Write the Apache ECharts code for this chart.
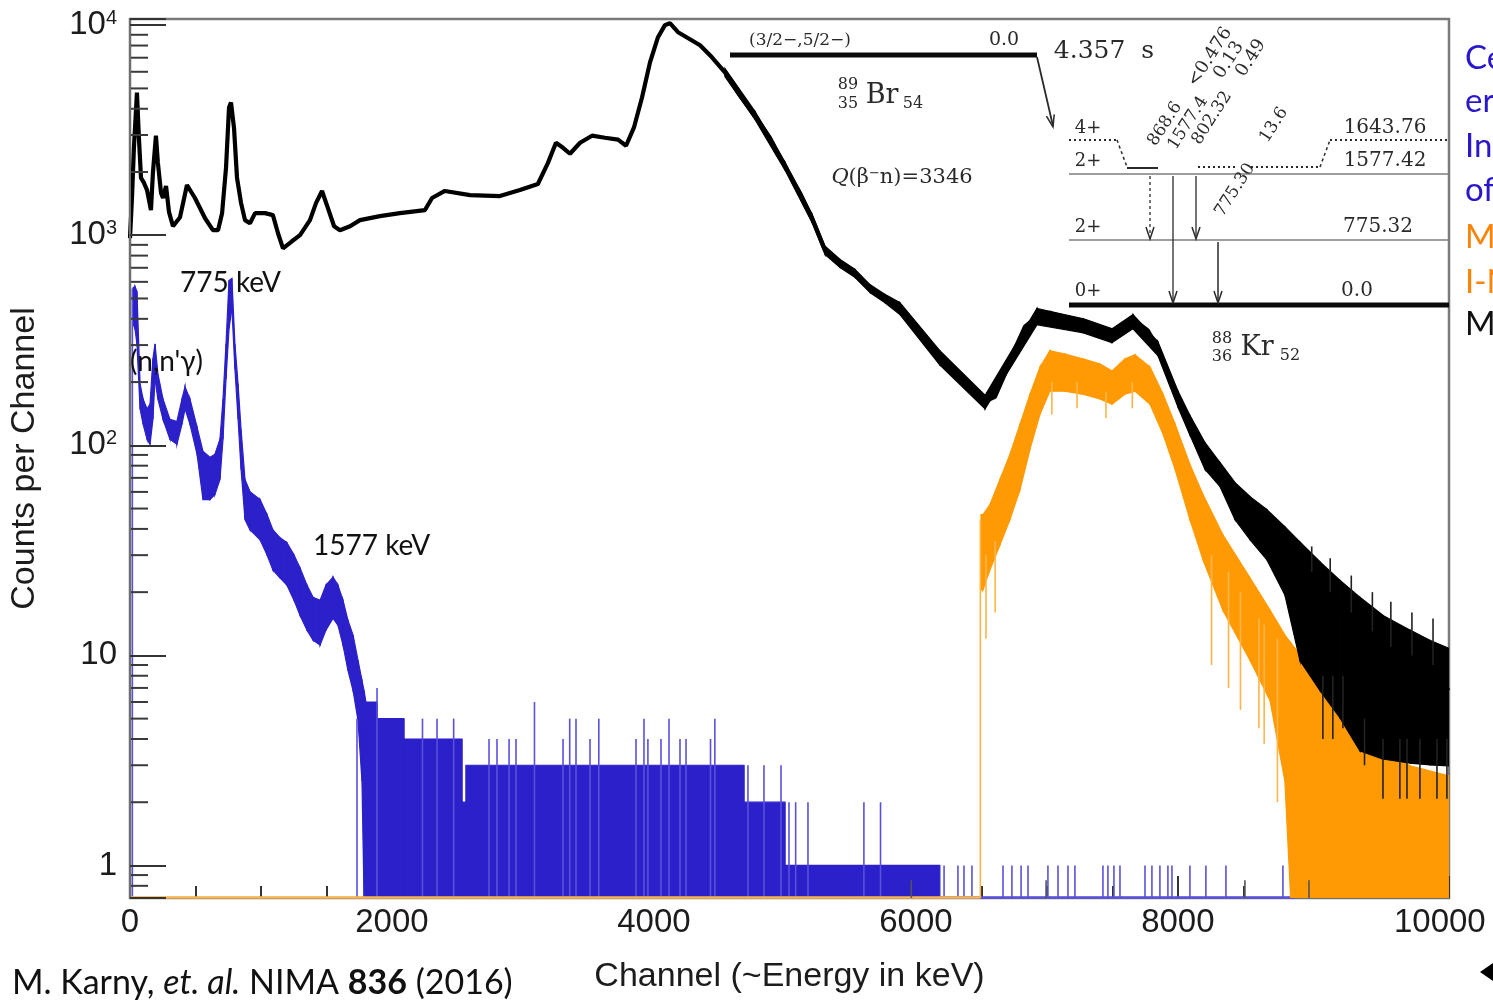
<!DOCTYPE html>
<html>
<head>
<meta charset="utf-8">
<script src="https://cdn.jsdelivr.net/npm/echarts@6/dist/echarts.min.js"></script>
<style>
html,body{margin:0;padding:0;background:#fff;}
#c{width:1493px;height:1000px;}
</style>
</head>
<body>
<div id="c"></div>
<script>
// ---------------- axis ranges / ticks ----------------
const X_MIN = 0, X_MAX = 10070, X_INTERVAL = 2000;
const Y_MIN = 0.7, Y_MAX = 10700;
const yMinorTickVals = [0.8,0.9,2,3,4,5,6,7,8,9,20,30,40,50,60,70,80,90,200,300,400,500,600,700,800,900,2000,3000,4000,5000,6000,7000,8000,9000];

// ---------------- black spectrum (all events) ----------------
const blackCh = [0,15,30,53,68,84,107,130,160,175,198,213,237,252,275,298,328,382,435,496,573,633,672,703,733,756,771,794,817,848,878,916,955,1031,1091,1130,1168,1236,1298,1374,1420,1466,1511,1558,1603,1680,1756,1908,2061,2252,2306,2404,2596,2824,2977,3114,3191,3252,3306,3359,3436,3527,3626,3726,3787,3847,3909,3970,4031,4084,4122,4184,4275,4352,4443,4542,4657,4772,4885,5000,5115,5207,5306,5420,5535,5650,5763,5878,5993,6108,6222,6336,6451,6528,6603,6680,6756,6833,6924,7023,7138,7276,7406,7497,7596,7673,7772,7848,7924,8001,8092,8207,8321,8436,8551,8680,8817,8932,9085,9237,9390,9566,9772,9925,10069];
const blackCounts = [968,1503,2608,4777,2911,1875,1774,1641,1318,1983,2978,2210,1589,1504,1716,1288,1104,1219,1734,1504,1205,1057,1057,1274,2093,4053,4285,3251,1875,1422,1180,1140,1274,1274,1247,1022,866,936,1001,1180,1422,1625,1346,1104,1057,1104,1180,1233,1274,1318,1504,1625,1553,1537,1641,1754,2210,2756,2608,2443,2756,2978,2911,2850,2667,3251,4525,6653,8766,10000,10220,9260,8570,8020,7030,5960,4625,3710,2911,2138,1589,1205,848,735,658,557,500,448,379,304,252,219,181,162,170,219,288,367,410,428,392,371,347,332,379,392,351,288,219,166,126,90.6,70.3,55.2,46.8,38.8,30.1,24.9,20.0,16.4,13.5,10.6,8.96,8.02,6.80];
// noise spread of the black spectrum (low / high envelope)
const blackBandCh = [4542,4772,5000,5207,5306,5420,5535,5650,5763,5878,6183,6528,6924,7276,7497,7657,7848,8001,8092,8207,8321,8436,8551,8680,8817,8932,9085,9237,9390,9566,9772,9925,10069];
const blackBandLo = [5700,3550,2045,1150,810,703,630,533,478,419,241,149,375,343,308,359,267,152,112,76.8,63.7,44.3,35.5,28.5,19.4,9.46,6.80,5.05,3.51,3.21,3.07,3.01,2.98];
const blackBandHi = [6230,3880,2235,1260,887,768,688,582,523,478,282,173,448,401,359,419,311,181,139,103,82.9,66.5,57.0,49.4,41.0,34.7,27.9,22.8,18.9,15.5,13.2,11.8,10.8];
// single-channel excursions of the black spectrum
const blackHairCh = [9022,9107,9163,9183,9260,9324,9425,9485,9566,9626,9695,9749,9787,9848,9948,9978,10054];
const blackHairLo = [25,4.0,20,4.0,4.5,16,3.0,13,2.08,11,2.08,2.08,10,2.08,9,2.08,2.08];
const blackHairHi = [33,8,29,8,8,24,5,20,4,18,4,4,16,4,15,4,4];
const blackLowCh = [5965,6994,8512,9001];
const blackLowVal = [0.85,0.85,0.85,0.85];

// ---------------- orange spectrum (coincidence) ----------------
const orangeCh = [6497,6512,6565,6642,6718,6795,6871,6948,7023,7138,7276,7406,7497,7596,7673,7787,7887,7979,8092,8192,8344,8551,8704,8817,8861,8894,9085,9314,9542,9772,10069];
const orangeLo = [20.5,20.5,25.5,33.6,44.3,61.5,95.7,141,181,181,175,166,157,175,181,157,113,76.8,44.3,28.5,16.4,9.46,6.09,2.52,0,0,0,0,0,0,0];
const orangeHi = [46.8,46.8,52.2,68.8,90.6,126,175,236,282,272,258,244,226,258,270,236,175,126,81.1,58.3,37.5,23.4,16.4,12.5,11.5,10.8,7.59,5.16,3.71,2.98,2.67];
const orangeHairCh = [6492,6535,6605,7038,7230,7451,7652,8257,8387,8478,8619,8659,8760];
const orangeHairLo = [0,12,16,140,150,135,150,9,7,5.5,4.5,3.8,2];
const orangeHairHi = [44.3,30,35,200,200,180,200,30,25,20,15,14,12];
const orangeZeroRange = [0,6492];

// ---------------- blue spectrum ----------------
const blueCh = [22,38,53,77,100,130,153,175,191,213,252,305,358,397,420,458,512,557,611,648,687,710,733,756,778,801,825,848,878,916,993,1046,1091,1145,1198,1252,1298,1351,1398,1451,1496,1550,1588,1626,1664,1703,1741,1771,1787,1801,1886,1886,2091,2091,2534,2534,2566,2566,4687,4687,5000,5000,6183];
const blueLo = [380,359,304,149,126,107,101,133,207,166,133,107,101,126,149,126,90.6,55.2,55.2,58.3,68.8,107,207,359,448,231,133,76.8,44.3,39.6,35.5,30.1,25.5,23.4,21.6,18.3,15.5,13.2,11.8,11.2,13.2,15.0,13.9,11.2,8.48,6.80,4.89,2.52,0,0,0,0,0,0,0,0,0,0,0,0,0,0,0];
const blueHi = [560,570,540,196,166,149,157,258,304,219,166,133,130,166,190,166,122,93.6,87.6,90.6,107,166,304,609,623,304,196,119,68.8,60.2,55.2,46.8,39.6,36.3,34.4,30.1,26.1,21.6,18.9,18.3,21.6,23.6,21.6,18.3,14.7,12.5,9.46,7.59,6.8,6,6,5,5,4,4,2,2,3,3,2,2,1,1];
const blueSpikeCh = [18,1733,1886,2233,2344,2471,2741,2802,2894,2947,3088,3306,3357,3405,3512,3579,3863,3924,3954,4054,4115,4199,4245,4432,4465,4718,4840,4970,5031,5082,5176,5603,5730,6215,6321,6367,6428,6665,6733,6803,6856,7008,7085,7161,7214,7428,7466,7512,7558,7749,7802,7863,7924,7955,8092,8214,8367,8802];
const blueSpikeVal = [557,5,7,5,5,5,4,4,4,4,6,4,5,5,4,5,4,5,4,4,5,4,4,4,5,3,3,3,2,2,2,2,2,1,1,1,1,1,1,1,1,1,1,1,1,1,1,1,1,1,1,1,1,1,1,1,1,1];
const blueZeroRange = [6183,8894];

// ---------------- colours / fonts ----------------
const BLUE = '#2b20c9', BLUE_LIGHT = '#5a50dc', ORANGE = '#ff9a05', ORANGE_LIGHT = '#ffb54a', BLACK = '#000000';
function fontAvailable(name){
  const ctx = document.createElement('canvas').getContext('2d');
  const s = 'Counts per Channel 10000';
  ctx.font = '40px monospace'; const w1 = ctx.measureText(s).width;
  ctx.font = '40px "' + name + '", monospace'; const w2 = ctx.measureText(s).width;
  return Math.abs(w1 - w2) > 0.5;
}
const NARROW = fontAvailable('Liberation Sans Narrow');
const AX_FONT = NARROW ? 'Liberation Sans Narrow' : 'Liberation Sans';
const TICK_SIZE = NARROW ? 40 : 33;
const NAME_SIZE = NARROW ? 41 : 34;
const AX_COLOR = '#1c1c1c';
const SLIDE_FONT = 'Lato, "Open Sans", sans-serif';
const SERIF = '"DejaVu Serif", "Liberation Serif", serif';
const INK = '#2a2a2a';

// ---------------- series builders ----------------
function clampCoord(api, c, v){ return api.coord([c, Math.max(v, Y_MIN)]); }
function bandSeries(name, ch, lo, hi, color, z){
  return {
    type: 'custom', name, z, silent: true, clip: true, animation: false,
    data: ch.map((c, i) => [c, Math.max(hi[i], Y_MIN)]),
    encode: { x: 0, y: 1 },
    renderItem(params, api){
      const i = params.dataIndex;
      if (i >= ch.length - 1) return null;
      const pts = [clampCoord(api, ch[i], lo[i]), clampCoord(api, ch[i], hi[i]),
                   clampCoord(api, ch[i+1], hi[i+1]), clampCoord(api, ch[i+1], lo[i+1])];
      return { type: 'polygon', shape: { points: pts }, style: { fill: color, stroke: color, lineWidth: 1.2 } };
    }
  };
}
function spikeSeries(name, ch, lo, hi, color, width, z){
  return {
    type: 'custom', name, z, silent: true, clip: true, animation: false,
    data: ch.map((c, i) => [c, Math.max(hi[i], Y_MIN)]),
    encode: { x: 0, y: 1 },
    renderItem(params, api){
      const i = params.dataIndex;
      const l = Array.isArray(lo) ? lo[i] : lo;
      const a = clampCoord(api, ch[i], l), b = clampCoord(api, ch[i], hi[i]);
      return { type: 'line', shape: { x1: a[0], y1: a[1], x2: b[0], y2: b[1] }, style: { stroke: color, lineWidth: width } };
    }
  };
}
function zeroSeries(name, range, color, z){
  return {
    type: 'custom', name, z, silent: true, clip: false, animation: false,
    data: [[range[0], Y_MIN]], encode: { x: 0, y: 1 },
    renderItem(params, api){
      const a = api.coord([range[0], Y_MIN]), b = api.coord([range[1], Y_MIN]);
      return { type: 'line', shape: { x1: a[0], y1: a[1] - 0.5, x2: b[0], y2: b[1] - 0.5 }, style: { stroke: color, lineWidth: 2.5 } };
    }
  };
}
function yMinorTickSeries(){
  return {
    type: 'custom', name: 'yMinorTicks', z: 20, silent: true, animation: false,
    data: yMinorTickVals.map(v => [X_MIN, v]), encode: { x: 0, y: 1 },
    renderItem(params, api){
      const p = api.coord([X_MIN, yMinorTickVals[params.dataIndex]]);
      return { type: 'line', shape: { x1: p[0], y1: p[1], x2: p[0] + 18, y2: p[1] }, style: { stroke: '#3a3a3a', lineWidth: 2 } };
    }
  };
}

// ---------------- annotation graphics ----------------
function txt(x, y, text, size, o){
  o = o || {};
  return { type: 'text', x, y, rotation: o.rot || 0, z: 60, silent: true,
    style: { text, fill: o.fill || INK, fontSize: size, fontFamily: o.family || SERIF,
             fontStyle: o.style || 'normal', fontWeight: o.weight || 'normal',
             align: o.align || 'center', verticalAlign: 'middle' } };
}
function ln(x1, y1, x2, y2, w, color, dash){
  return { type: 'line', z: 60, silent: true, shape: { x1, y1, x2, y2 },
    style: { stroke: color || INK, lineWidth: w || 1.5, lineDash: dash || null } };
}
function head(x, y, dx, dy){
  const L = Math.hypot(dx, dy), ux = dx / L, uy = dy / L, px = -uy, py = ux, len = 12, wd = 4;
  return { type: 'polyline', z: 60, silent: true,
    shape: { points: [[x - ux*len + px*wd, y - uy*len + py*wd], [x, y], [x - ux*len - px*wd, y - uy*len - py*wd]] },
    style: { stroke: INK, lineWidth: 1.5, fill: null } };
}
const ROT = 1.0;
const graphics = [
  // level scheme: 89Br ground state
  ln(730, 55, 1037, 55, 5, '#0a0a0a'),
  txt(800, 41, '(3/2−,5/2−)', 17),
  txt(1004, 40, '0.0', 19),
  txt(1104, 51, '4.357  s', 25),
  ln(1037, 57, 1053, 126, 1.8), head(1053, 127, 16, 70),
  txt(848, 85, '89', 16), txt(848, 104, '35', 16), txt(882, 96, 'Br', 27), txt(913, 104, '54', 16),
  { type: 'text', x: 902, y: 178, z: 60, silent: true,
    style: { text: '{i|Q}{n|(β}{s|−}{n|n)=3346}', align: 'center', verticalAlign: 'middle',
      rich: { i: { fontFamily: SERIF, fontSize: 21, fontStyle: 'italic', fill: INK },
              n: { fontFamily: SERIF, fontSize: 21, fill: INK },
              s: { fontFamily: SERIF, fontSize: 13, fill: INK, verticalAlign: 'top' } } } },
  // 88Kr levels
  ln(1069, 174, 1449, 174, 1.6, '#7e7e7e'),
  ln(1069, 240, 1449, 240, 1.6, '#7e7e7e'),
  ln(1069, 305, 1449, 305, 5, '#0a0a0a'),
  ln(1069, 140, 1117, 140, 2, INK, [2, 3]), ln(1117, 140, 1127, 167, 1.5, INK, [3, 3]), ln(1127, 168, 1158, 168, 2, INK),
  ln(1198, 167, 1236, 167, 2, INK, [2, 3]), ln(1251, 167, 1320, 167, 2, INK, [2, 3]),
  ln(1320, 167, 1330, 140, 1.5, INK, [3, 3]), ln(1330, 140, 1449, 140, 2, INK, [2, 3]),
  txt(1088, 128, '4+', 18), txt(1088, 161, '2+', 18), txt(1088, 227, '2+', 18), txt(1088, 291, '0+', 18),
  txt(1385, 128, '1643.76', 20), txt(1385, 161, '1577.42', 20), txt(1378, 227, '775.32', 20), txt(1357, 291, '0.0', 20),
  ln(1150, 176, 1150, 236, 1.3, INK, [3, 3]), head(1150, 239, 0, 1),
  ln(1173, 176, 1173, 301, 1.3), head(1173, 303, 0, 1),
  ln(1196, 176, 1196, 236, 1.3), head(1196, 239, 0, 1),
  ln(1218, 242, 1218, 301, 1.5), head(1218, 303, 0, 1),
  txt(1165, 124, '868.6', 17, { rot: ROT }), txt(1188, 123, '1577.4', 17, { rot: ROT }),
  txt(1212, 118, '802.32', 17, { rot: ROT }), txt(1274, 125, '13.6', 17, { rot: ROT }),
  txt(1235, 190, '775.30', 17, { rot: ROT }),
  txt(1210, 57, '<0.476', 18, { rot: ROT }), txt(1229, 60, '0.13', 18, { rot: ROT }), txt(1251, 58, '0.49', 18, { rot: ROT }),
  txt(1222, 339, '88', 16), txt(1222, 357, '36', 16), txt(1257, 348, 'Kr', 27), txt(1290, 356, '52', 16),
  // slide annotations
  txt(180, 283, '775 keV', 28, { family: SLIDE_FONT, fill: '#111', align: 'left' }),
  txt(130, 362, "(n,n'γ)", 28, { family: SLIDE_FONT, fill: '#111', align: 'left' }),
  txt(313, 546, '1577 keV', 28, { family: SLIDE_FONT, fill: '#111', align: 'left' }),
  { type: 'text', x: 12, y: 983, z: 60, silent: true,
    style: { text: '{n|M. Karny, }{i|et. al.}{n| NIMA }{b|836}{n| (2016)}', align: 'left', verticalAlign: 'middle',
      rich: { n: { fontFamily: SLIDE_FONT, fontSize: 34, fill: '#111' },
              i: { fontFamily: SLIDE_FONT, fontSize: 34, fontStyle: 'italic', fill: '#111' },
              b: { fontFamily: SLIDE_FONT, fontSize: 34, fontWeight: 'bold', fill: '#111' } } } },
  txt(1465, 58, 'Ce', 33, { family: SLIDE_FONT, fill: '#2a17c9', align: 'left' }),
  txt(1465, 101, 'er', 33, { family: SLIDE_FONT, fill: '#2a17c9', align: 'left' }),
  txt(1465, 146, 'In', 33, { family: SLIDE_FONT, fill: '#2a17c9', align: 'left' }),
  txt(1465, 190, 'of', 33, { family: SLIDE_FONT, fill: '#2a17c9', align: 'left' }),
  txt(1465, 237, 'M', 33, { family: SLIDE_FONT, fill: '#f7850c', align: 'left' }),
  txt(1465, 282, 'I-N', 33, { family: SLIDE_FONT, fill: '#f7850c', align: 'left' }),
  txt(1465, 324, 'M', 33, { family: SLIDE_FONT, fill: '#111', align: 'left' }),
  { type: 'polygon', z: 60, silent: true, shape: { points: [[1480, 972], [1496, 961], [1496, 983]] }, style: { fill: '#000' } }
];

// ---------------- chart ----------------
const chart = echarts.init(document.getElementById('c'), null, { renderer: 'canvas', width: 1493, height: 1000 });
chart.setOption({
  animation: false,
  backgroundColor: '#ffffff',
  grid: { left: 130, right: 44, top: 19, bottom: 102, show: true, borderColor: '#7a7a7a', borderWidth: 2.5,
          containLabel: false, outerBoundsMode: 'none' },
  xAxis: {
    type: 'value', min: X_MIN, max: X_MAX, interval: X_INTERVAL,
    axisLine: { show: true, lineStyle: { color: '#6e6e6e', width: 2 } },
    axisTick: { show: true, inside: true, length: 22, lineStyle: { color: '#333', width: 2 } },
    minorTick: { show: true, splitNumber: 4, length: 12, lineStyle: { color: '#333', width: 2 } },
    splitLine: { show: false },
    axisLabel: { formatter: v => (Math.abs(v % X_INTERVAL) < 1e-9 ? String(v) : ''), fontFamily: AX_FONT, fontSize: TICK_SIZE, color: AX_COLOR, margin: 8 },
    name: 'Channel (~Energy in keV)', nameLocation: 'middle', nameGap: 62,
    nameTextStyle: { fontFamily: AX_FONT, fontSize: NAME_SIZE, color: AX_COLOR }
  },
  yAxis: {
    type: 'log', logBase: 10, min: Y_MIN, max: Y_MAX, z: 20,
    axisLine: { show: true, lineStyle: { color: '#6e6e6e', width: 2 } },
    axisTick: { show: true, inside: true, length: 36, lineStyle: { color: '#333', width: 2 } },
    minorTick: { show: false }, splitLine: { show: false },
    axisLabel: {
      margin: 13, fontFamily: AX_FONT, fontSize: TICK_SIZE, color: AX_COLOR,
      formatter: v => {
        const lg = Math.log10(v), n = Math.round(lg);
        if (Math.abs(lg - n) > 1e-6) return '';
        if (n === 0) return '1';
        if (n === 1) return '10';
        return '{a|10}{s|' + n + '}';
      },
      rich: { a: { fontFamily: AX_FONT, fontSize: TICK_SIZE, color: AX_COLOR },
              s: { fontFamily: AX_FONT, fontSize: Math.round(TICK_SIZE * 0.62), color: AX_COLOR, verticalAlign: 'top' } }
    },
    name: 'Counts per Channel', nameLocation: 'middle', nameGap: 88, nameRotate: 90,
    nameTextStyle: { fontFamily: AX_FONT, fontSize: NAME_SIZE, color: AX_COLOR }
  },
  series: [
    bandSeries('blue', blueCh, blueLo, blueHi, BLUE, 2),
    spikeSeries('blueSpikes', blueSpikeCh, 0, blueSpikeVal, BLUE_LIGHT, 1.6, 2),
    zeroSeries('blueZero', blueZeroRange, BLUE_LIGHT, 2),
    bandSeries('orange', orangeCh, orangeLo, orangeHi, ORANGE, 3),
    spikeSeries('orangeHair', orangeHairCh, orangeHairLo, orangeHairHi, ORANGE_LIGHT, 1.6, 3),
    zeroSeries('orangeZero', orangeZeroRange, ORANGE_LIGHT, 3),
    bandSeries('blackBand', blackBandCh, blackBandLo, blackBandHi, BLACK, 4),
    spikeSeries('blackHair', blackHairCh, blackHairLo, blackHairHi, '#222', 1.6, 4),
    spikeSeries('blackLow', blackLowCh, 0, blackLowVal, '#555', 1.6, 4),
    { type: 'line', name: 'black', z: 5, silent: true, clip: true, showSymbol: false, animation: false,
      data: blackCh.map((c, i) => [c, blackCounts[i]]),
      lineStyle: { color: BLACK, width: 4.2 } },
    yMinorTickSeries()
  ],
  graphic: graphics
});
</script>
</body>
</html>
